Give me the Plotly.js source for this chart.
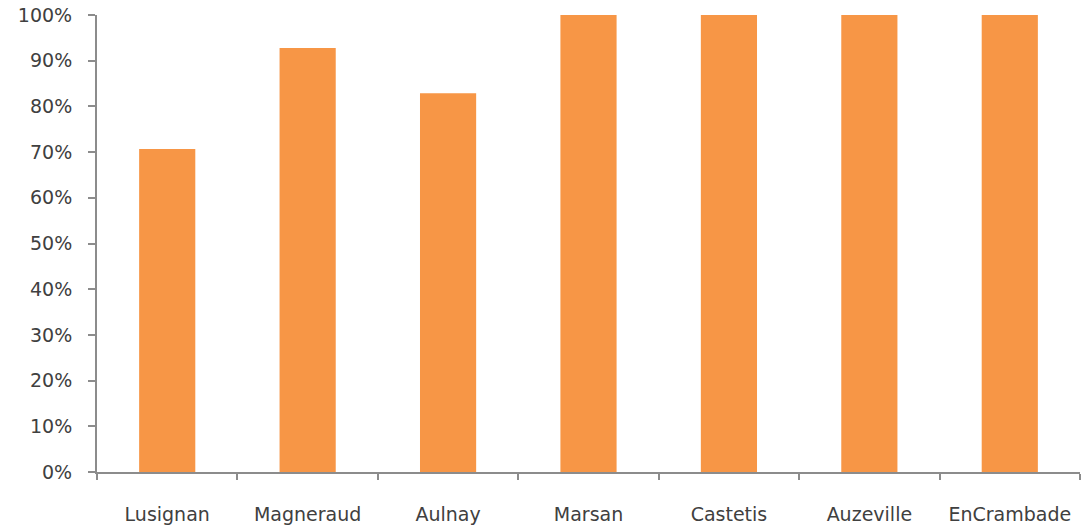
<!DOCTYPE html>
<html>
<head>
<meta charset="utf-8">
<script src="https://cdn.plot.ly/plotly-3.0.1.min.js"></script>
<style>
  html, body { margin: 0; padding: 0; background: #fff; }
  #chart { width: 1084px; height: 531px; }
</style>
</head>
<body>
<div id="chart"></div>
<script>
// Share per site (fraction of 1)
const sites = ['Lusignan', 'Magneraud', 'Aulnay', 'Marsan', 'Castetis', 'Auzeville', 'EnCrambade'];
const shares = [0.707, 0.928, 0.829, 1.0, 1.0, 1.0, 1.0];
const yTickValues = [0, 0.1, 0.2, 0.3, 0.4, 0.5, 0.6, 0.7, 0.8, 0.9, 1.0];
const yTickLabels = ['0%', '10%', '20%', '30%', '40%', '50%', '60%', '70%', '80%', '90%', '100%'];

const axisColor = '#8c8c8c';
const textFont = { family: 'DejaVu Sans, Open Sans, sans-serif', size: 19, color: '#404040' };

Plotly.newPlot('chart', [{
  type: 'bar',
  x: sites,
  y: shares,
  marker: { color: '#F79646' },
  hoverinfo: 'x+y'
}], {
  width: 1084,
  height: 531,
  margin: { l: 97, r: 4, t: 15, b: 59 },
  paper_bgcolor: '#ffffff',
  plot_bgcolor: '#ffffff',
  bargap: 0.6,
  showlegend: false,
  xaxis: {
    type: 'category',
    showline: true,
    linecolor: axisColor,
    linewidth: 2,
    ticks: 'outside',
    tickson: 'boundaries',
    ticklen: 6,
    tickwidth: 2,
    tickcolor: axisColor,
    showgrid: false,
    zeroline: false,
    tickfont: textFont,
    ticklabelstandoff: 24
  },
  yaxis: {
    range: [0, 1],
    tickvals: yTickValues,
    ticktext: yTickLabels,
    showline: true,
    linecolor: axisColor,
    linewidth: 2,
    ticks: 'outside',
    ticklen: 7,
    tickwidth: 2,
    tickcolor: axisColor,
    showgrid: false,
    zeroline: false,
    tickfont: textFont,
    ticklabelstandoff: 12
  }
}, { displayModeBar: false, staticPlot: true });
</script>
</body>
</html>
